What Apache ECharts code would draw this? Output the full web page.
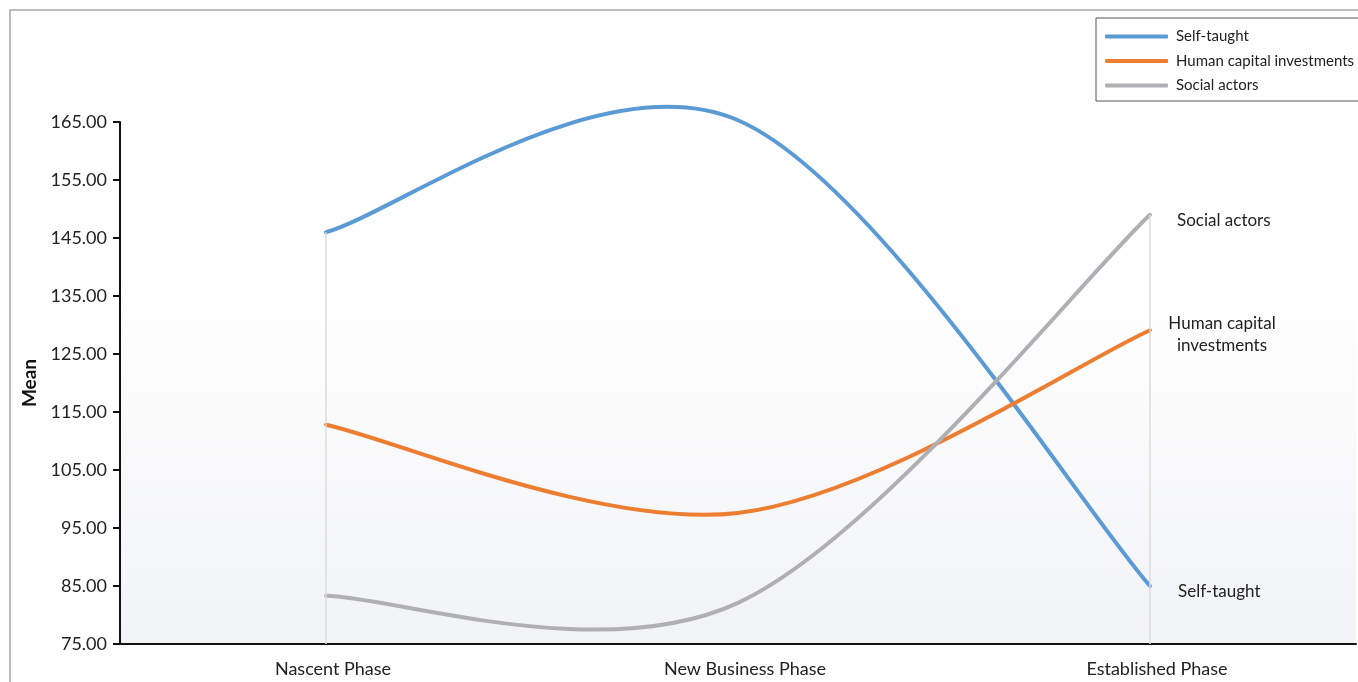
<!DOCTYPE html>
<html>
<head>
<meta charset="utf-8">
<script src="https://cdn.jsdelivr.net/npm/echarts@6/dist/echarts.min.js"></script>
<style>html,body{margin:0;padding:0;background:#fff}#c{width:1358px;height:682px}</style>
</head>
<body>
<div id="c"></div>
<script>
const categories = ['Nascent Phase', 'New Business Phase', 'Established Phase'];
const selfTaught = [146.0, 165.3, 85.0];
const humanCapital = [112.8, 97.6, 129.1];
const socialActors = [83.3, 82.1, 149.0];
const yTicks = {min: 75, max: 165, interval: 10};

const FONT = 'Lato';
const chart = echarts.init(document.getElementById('c'));
const maxes = categories.map((c, i) => Math.max(selfTaught[i], humanCapital[i], socialActors[i]));
const dropLines = categories.map((c, i) => [
  {coord: [i, maxes[i]]},
  {coord: [i, yTicks.min]}
]);

function smoothPath(pts) {
  let d = 'M' + pts[0][0] + ' ' + pts[0][1];
  for (let i = 0; i < pts.length - 1; i++) {
    const p0 = pts[i - 1] || pts[i];
    const p1 = pts[i];
    const p2 = pts[i + 1];
    const p3 = pts[i + 2] || pts[i + 1];
    const c1x = p1[0] + (p2[0] - p0[0]) / 6, c1y = p1[1] + (p2[1] - p0[1]) / 6;
    const c2x = p2[0] - (p3[0] - p1[0]) / 6, c2y = p2[1] - (p3[1] - p1[1]) / 6;
    d += ' C' + c1x + ' ' + c1y + ' ' + c2x + ' ' + c2y + ' ' + p2[0] + ' ' + p2[1];
  }
  return d;
}

function curveSeries(name, values, color, label, dx, dy, align) {
  return {
    name: name, type: 'custom', z: 3, silent: true,
    itemStyle: {color: color},
    data: values.map((v, i) => [i, v]),
    encode: {x: 0, y: 1},
    renderItem: function (params, api) {
      if (params.dataIndex !== 0) return null;
      const pts = values.map((v, i) => api.coord([i, v]));
      const last = pts[pts.length - 1];
      return {
        type: 'group',
        children: [
          {
            type: 'path',
            shape: {pathData: smoothPath(pts)},
            style: {stroke: color, lineWidth: 4, fill: null, lineCap: 'round', lineJoin: 'round'}
          },
          {
            type: 'text',
            x: last[0] + dx, y: last[1] + dy,
            style: {
              text: label, fill: '#222', fontFamily: FONT, fontSize: 17,
              align: align, verticalAlign: 'middle', lineHeight: 22
            }
          }
        ]
      };
    }
  };
}

chart.setOption({
  animation: false,
  graphic: [{
    type: 'rect', z: -10, silent: true,
    shape: {x: 10, y: 10, width: 1400, height: 720},
    style: {fill: 'none', stroke: '#a6a6a6', lineWidth: 1.5}
  }],
  legend: {
    orient: 'vertical', left: 1096, top: 18,
    data: ['Self-taught', 'Human capital investments', 'Social actors'],
    icon: 'roundRect', itemWidth: 63, itemHeight: 4, itemGap: 9.5,
    padding: [11, 30, 8, 9],
    backgroundColor: '#fff', borderColor: '#555', borderWidth: 1,
    textStyle: {fontFamily: FONT, fontSize: 15, lineHeight: 15, color: '#222', padding: [0, 0, 0, 3]}
  },
  grid: {
    left: 120, right: 2, top: 122, bottom: 38,
    show: true, borderWidth: 0,
    backgroundColor: {
      type: 'linear', x: 0, y: 0, x2: 0, y2: 1,
      colorStops: [{offset: 0, color: '#ffffff'}, {offset: 0.3, color: '#ffffff'}, {offset: 1, color: '#f2f3f5'}]
    }
  },
  xAxis: {
    type: 'category', data: categories, boundaryGap: true,
    axisLine: {lineStyle: {color: '#111', width: 2}},
    axisTick: {alignWithLabel: true, length: 7, lineStyle: {color: '#111', width: 2}},
    axisLabel: {fontFamily: FONT, fontSize: 18, color: '#222', margin: 16, padding: [0, 0, 0, 14]},
    splitLine: {show: false}
  },
  yAxis: {
    type: 'value', min: yTicks.min, max: yTicks.max, interval: yTicks.interval,
    name: 'Mean', nameLocation: 'middle', nameGap: 78, nameRotate: 90,
    nameTextStyle: {fontFamily: FONT, fontSize: 19, fontWeight: 'bold', color: '#111'},
    axisLine: {show: true, lineStyle: {color: '#111', width: 2}},
    axisTick: {show: true, length: 7, lineStyle: {color: '#111', width: 2}},
    axisLabel: {fontFamily: FONT, fontSize: 18, color: '#222', margin: 13, formatter: v => v.toFixed(2)},
    splitLine: {show: false}
  },
  series: [
    {
      name: 'drop', type: 'line', data: [], silent: true, z: 1,
      markLine: {
        silent: true, symbol: 'none', label: {show: false},
        lineStyle: {color: '#dcdcdc', width: 1.5, type: 'solid'},
        data: dropLines
      }
    },
    curveSeries('Self-taught', selfTaught, '#5b9bd5', 'Self-taught', 28, 6, 'left'),
    curveSeries('Human capital investments', humanCapital, '#ed7d31', 'Human capital\ninvestments', 72, 4, 'center'),
    curveSeries('Social actors', socialActors, '#b0b0b4', 'Social actors', 27, 6, 'left')
  ]
});
</script>
</body>
</html>
